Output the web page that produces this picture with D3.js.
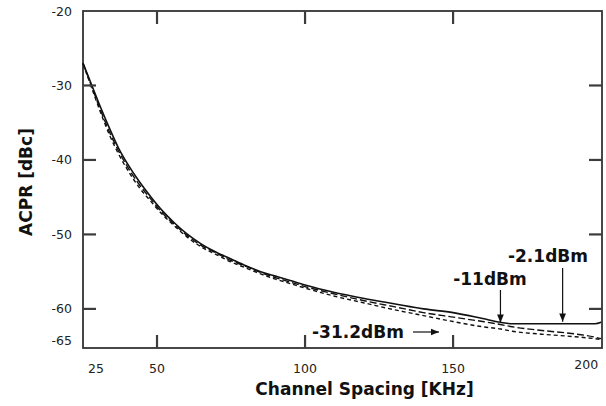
<!DOCTYPE html>
<html><head><meta charset="utf-8">
<script src="https://cdn.jsdelivr.net/npm/d3@7"></script>
<style>
html,body{margin:0;padding:0;background:#fff;}
svg{display:block;}
</style></head>
<body><svg id="c" width="606" height="406"></svg>
<script>
// ---- data ----
const spacing = [25, 28, 31, 34, 37, 40, 44, 48, 52, 56, 60, 65, 70, 75, 80, 85, 90, 95, 100, 110, 120, 130, 140, 150, 160, 166, 170, 180, 190, 198, 200];
const acprHigh = [-27.0,-30.0,-33.0,-35.8,-38.4,-40.5,-42.9,-45.0,-46.9,-48.5,-49.9,-51.3,-52.4,-53.3,-54.2,-55.0,-55.6,-56.2,-56.8,-57.8,-58.6,-59.3,-60.0,-60.5,-61.3,-61.8,-62.0,-62.0,-62.0,-62.0,-61.8];
const acprMid  = [-27.0,-30.2,-33.4,-36.3,-38.8,-40.9,-43.3,-45.3,-47.2,-48.7,-50.1,-51.5,-52.5,-53.5,-54.3,-55.1,-55.8,-56.4,-57.0,-58.0,-58.9,-59.7,-60.5,-61.1,-61.7,-62.1,-62.4,-62.9,-63.3,-63.8,-64.0];
const acprLow  = [-27.1,-30.4,-33.7,-36.7,-39.2,-41.3,-43.7,-45.6,-47.4,-48.9,-50.3,-51.7,-52.7,-53.7,-54.5,-55.3,-56.0,-56.6,-57.2,-58.3,-59.2,-60.1,-60.9,-61.7,-62.4,-62.7,-63.0,-63.4,-63.7,-64.0,-64.1];
const seriesNames = ["-2.1dBm", "-11dBm", "-31.2dBm"];
const xTickMarks = [50, 100, 150];
const xTickLabels = [25, 50, 100, 150, 200];
const yTickMarks = [-30, -40, -50, -60];
const yTickLabels = [-20, -30, -40, -50, -60, -65];
const xTitle = "Channel Spacing [KHz]";
const yTitle = "ACPR [dBc]";

// ---- layout ----
const L = 83, R = 602, T = 11, B = 348;
const x = d3.scaleLinear().domain([25, 200.3]).range([L, R]);
const y = d3.scaleLinear().domain([-65.25, -20]).range([B, T]);
const svg = d3.select("#c");
const tickLen = 13;
const frameCol = "#333";
const tickCol = "#3c3c3c";

// frame
svg.append("rect").attr("x", L).attr("y", T).attr("width", R - L).attr("height", B - T)
  .style("fill", "none").style("stroke", frameCol).style("stroke-width", "1.8px");

// tick labels
const tickFont = "'DejaVu Sans', Verdana, sans-serif";
const nX = xTickLabels.length;
svg.append("g").selectAll("text").data(xTickLabels).join("text")
  .attr("x", (d, i) => i === 0 ? x(d) + 5 : (i === nX - 1 ? x(d) - 3 : x(d)))
  .attr("y", (d, i) => i === nX - 1 ? 369 : 373)
  .attr("text-anchor", (d, i) => i === 0 ? "start" : (i === nX - 1 ? "end" : "middle"))
  .attr("font-family", tickFont).attr("font-size", 12.5).attr("fill", "#222")
  .text(d => d);
const nY = yTickLabels.length;
svg.append("g").selectAll("text").data(yTickLabels).join("text")
  .attr("x", 72)
  .attr("y", (d, i) => (i === nY - 1 ? y(d) - 6 : y(d)) + 4.5)
  .attr("text-anchor", "end")
  .attr("font-family", tickFont).attr("font-size", 12.5).attr("fill", "#222")
  .text(d => d);

// axis titles
const titleFont = "'DejaVu Sans', Verdana, sans-serif";
svg.append("text").attr("x", (L + R) / 2 + 22).attr("y", 395)
  .attr("text-anchor", "middle").attr("font-family", titleFont)
  .attr("font-weight", "bold").attr("font-size", 17).attr("fill", "#111")
  .text(xTitle);
svg.append("text").attr("transform", "translate(32,182) rotate(-90)")
  .attr("text-anchor", "middle").attr("font-family", titleFont)
  .attr("font-weight", "bold").attr("font-size", 17).attr("fill", "#111")
  .text(yTitle);

// curves
const series = [
  {name: seriesNames[0], vals: acprHigh, dash: null, w: 1.6},
  {name: seriesNames[1], vals: acprMid, dash: "7,3", w: 1.4},
  {name: seriesNames[2], vals: acprLow, dash: "4,3", w: 1.4}
];
const line = d3.line().x(d => x(d[0])).y(d => y(d[1])).curve(d3.curveMonotoneX);
svg.append("g").selectAll("path").data(series).join("path")
  .attr("d", s => line(spacing.map((v, i) => [v, s.vals[i]])))
  .attr("fill", "none").attr("stroke", "#111")
  .attr("stroke-width", s => s.w)
  .attr("stroke-dasharray", s => s.dash);

// annotations
const defs = svg.append("defs");
defs.append("marker").attr("id", "ah").attr("viewBox", "0 0 10 10")
  .attr("refX", 10).attr("refY", 5).attr("markerWidth", 7).attr("markerHeight", 7)
  .attr("orient", "auto-start-reverse")
  .append("path").attr("d", "M0,1 L10,5 L0,9 z").attr("fill", "#111");

const ann = svg.append("g").attr("font-family", titleFont).attr("font-weight", "bold")
  .attr("font-size", 17).attr("fill", "#111");
ann.append("text").attr("x", 548).attr("y", 262).attr("text-anchor", "middle").text(seriesNames[0]);
svg.append("line").attr("x1", x(187)).attr("x2", x(187)).attr("y1", 268).attr("y2", y(-62.0) - 2)
  .attr("stroke", "#111").attr("stroke-width", 1.2).attr("marker-end", "url(#ah)");
ann.append("text").attr("x", 490).attr("y", 285).attr("text-anchor", "middle").text(seriesNames[1]);
svg.append("line").attr("x1", x(166)).attr("x2", x(166)).attr("y1", 290).attr("y2", y(-62.0) - 1)
  .attr("stroke", "#111").attr("stroke-width", 1.2).attr("marker-end", "url(#ah)");
ann.append("text").attr("x", 312).attr("y", 338).attr("text-anchor", "start").text(seriesNames[2]);
svg.append("line").attr("x1", 413).attr("x2", 439).attr("y1", 332).attr("y2", 332)
  .attr("stroke", "#111").attr("stroke-width", 1.2).attr("marker-end", "url(#ah)");

// tick marks, drawn last, same element type as the annotation arrows
const tickSegs = [];
xTickMarks.forEach(v => {
  tickSegs.push([x(v), B, x(v), B - tickLen]);
  tickSegs.push([x(v), T, x(v), T + tickLen]);
});
yTickMarks.forEach(v => {
  tickSegs.push([L, y(v), L + tickLen, y(v)]);
  tickSegs.push([R, y(v), R - tickLen, y(v)]);
});
tickSegs.forEach(s => {
  svg.append("line").attr("x1", s[0]).attr("y1", s[1]).attr("x2", s[2]).attr("y2", s[3])
    .attr("stroke", tickCol).attr("stroke-width", 2.2);
});
</script>
</body></html>
